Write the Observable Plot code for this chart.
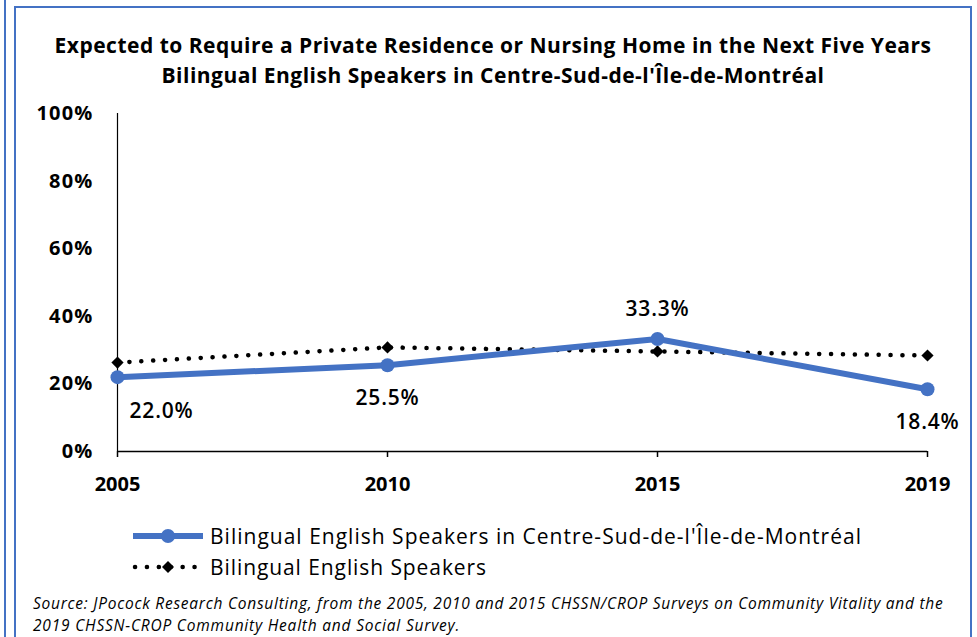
<!DOCTYPE html>
<html><head><meta charset="utf-8">
<script src="https://cdn.jsdelivr.net/npm/d3@7"></script>
<script src="https://cdn.jsdelivr.net/npm/@observablehq/plot@0.6"></script>
<style>
html,body{margin:0;padding:0;background:#fff;}
#root{position:relative;width:977px;height:637px;overflow:hidden;background:#fff;font-family:"Open Sans",Lato,sans-serif;color:#000;}
#outerline{position:absolute;left:4px;top:0;width:2px;height:637px;background:#4472C4;}
#box{position:absolute;left:14px;top:6px;width:954px;height:640px;border:2px solid #4472C4;border-bottom:none;}
.title{position:absolute;left:15px;width:956px;text-align:center;font-weight:700;font-size:21px;line-height:24px;white-space:nowrap;}
#chart{position:absolute;left:0;top:0;}
.legend-row{position:absolute;left:130px;display:flex;align-items:center;font-size:21px;line-height:26px;white-space:nowrap;}
.legend-row svg{margin-right:4px;}
.caption{position:absolute;left:33px;font-style:italic;font-size:15.5px;line-height:18px;white-space:nowrap;}
</style></head>
<body>
<div id="root">
  <div id="outerline"></div>
  <div id="box"></div>
  <div class="title" id="t1" style="top:33px"></div>
  <div class="title" id="t2" style="top:63px"></div>
  <div id="chart"></div>
  <div class="legend-row" id="lg1" style="top:523px"></div>
  <div class="legend-row" id="lg2" style="top:554px"></div>
  <div class="caption" id="c1" style="top:594px"></div>
  <div class="caption" id="c2" style="top:616px"></div>
</div>
<script>
const titleLines = ["Expected to Require a Private Residence or Nursing Home in the Next Five Years",
                    "Bilingual English Speakers in Centre-Sud-de-l'Île-de-Montréal"];
const years = ["2005", "2010", "2015", "2019"];
const montreal = [22.0, 25.5, 33.3, 18.4];
const allBilingual = [26.3, 30.8, 29.6, 28.4];
const yTicks = [0, 20, 40, 60, 80, 100];
const seriesNames = ["Bilingual English Speakers in Centre-Sud-de-l'Île-de-Montréal", "Bilingual English Speakers"];
const captionLines = ["Source: JPocock Research Consulting, from the 2005, 2010  and 2015  CHSSN/CROP Surveys on Community Vitality and the",
                      "2019  CHSSN-CROP Community Health and Social Survey."];

const blue = "#4472C4";
const font = "'Open Sans', Lato, sans-serif";

// Fit an HTML text line to the width it occupies in the reference by letter spacing
function setText(id, text, target) {
  const el = document.getElementById(id);
  const span = document.createElement("span");
  span.textContent = text;
  el.appendChild(span);
  const w = span.getBoundingClientRect().width;
  span.style.letterSpacing = ((target - w) / text.length) + "px";
  return el;
}
setText("t1", titleLines[0], 877);
setText("t2", titleLines[1], 663);
setText("c1", captionLines[0], 912);
setText("c2", captionLines[1], 428);

const mData = years.map((y, i) => ({year: y, value: montreal[i], i}));
const bData = years.map((y, i) => ({year: y, value: allBilingual[i], i}));
const fmt = v => v.toFixed(1) + "%";

const chart = Plot.plot({
  width: 977, height: 510,
  marginTop: 113, marginBottom: 59, marginLeft: 117, marginRight: 50,
  x: {type: "point", domain: years, padding: 0},
  y: {domain: [0, 100]},
  style: {fontFamily: font, background: "transparent", color: "#000", overflow: "visible"},
  marks: [
    Plot.axisY({ticks: yTicks, tickSize: 0, tickPadding: 24, tickFormat: d => d + "%", fontSize: 20, fontWeight: 700, label: null}),
    Plot.axisX({tickSize: 6, tickPadding: 19, fontSize: 20, fontWeight: 700, label: null, strokeWidth: 1.5}),
    Plot.ruleY([0], {stroke: "#000", strokeWidth: 1.5}),
    Plot.ruleX([years[0]], {y1: 0, y2: 100, stroke: "#000", strokeWidth: 1.2}),
    Plot.line(bData, {x: "year", y: "value", stroke: "#000", strokeWidth: 4.5, strokeDasharray: "0.1 11.8", strokeLinecap: "round"}),
    Plot.dot(bData, {x: "year", y: "value", symbol: "diamond2", r: 5.5, fill: "#000", stroke: "none"}),
    Plot.line(mData, {x: "year", y: "value", stroke: blue, strokeWidth: 6}),
    Plot.dot(mData, {x: "year", y: "value", r: 7, fill: blue, stroke: "none"}),
    Plot.text(mData.filter(d => d.i === 0), {x: "year", y: "value", text: d => fmt(d.value), dx: 44, dy: 34, fontSize: 21, fontWeight: 600}),
    Plot.text(mData.filter(d => d.i === 1 || d.i === 3), {x: "year", y: "value", text: d => fmt(d.value), dy: 33, fontSize: 21, fontWeight: 600}),
    Plot.text(mData.filter(d => d.i === 2), {x: "year", y: "value", text: d => fmt(d.value), dy: -30, fontSize: 21, fontWeight: 600})
  ]
});
document.getElementById("chart").appendChild(chart);
d3.select(chart).selectAll('g[aria-label="y-axis tick label"] text').style("letter-spacing", "1.2px");
d3.select(chart).selectAll('g[aria-label="text"] text').style("letter-spacing", "0.8px");

function legendRow(id, name, kind, target) {
  const row = document.getElementById(id);
  const ns = "http://www.w3.org/2000/svg";
  const svg = document.createElementNS(ns, "svg");
  svg.setAttribute("width", 76); svg.setAttribute("height", 20);
  if (kind === "blue") {
    svg.innerHTML = `<line x1="3" x2="73" y1="10" y2="10" stroke="${blue}" stroke-width="6"/><circle cx="38" cy="10" r="7" fill="${blue}"/>`;
  } else {
    svg.innerHTML = `<line x1="5" x2="72" y1="10" y2="10" stroke="#000" stroke-width="4.5" stroke-dasharray="0.1 11.8" stroke-linecap="round"/><path d="M38,4 L44,10 L38,16 L32,10 Z" fill="#000"/>`;
  }
  row.appendChild(svg);
  const span = document.createElement("span");
  span.textContent = name;
  row.appendChild(span);
  const w = span.getBoundingClientRect().width;
  span.style.letterSpacing = ((target - w) / name.length) + "px";
}
legendRow("lg1", seriesNames[0], "blue", 652);
legendRow("lg2", seriesNames[1], "black", 277);
</script>
</body></html>
